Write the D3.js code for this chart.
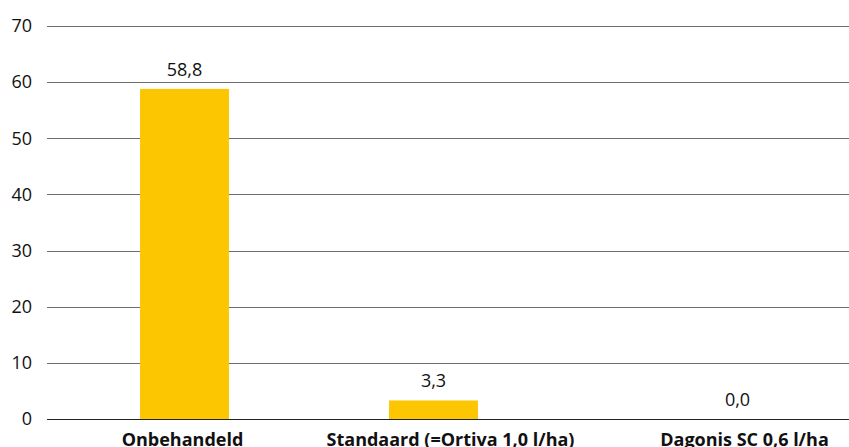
<!DOCTYPE html>
<html>
<head>
<meta charset="utf-8">
<script src="https://cdn.jsdelivr.net/npm/d3@7"></script>
<style>
  body { margin: 0; background: #fff; }
  text { font-family: "Open Sans", sans-serif; fill: #111; }
  .grid line { stroke: #6e6e6e; stroke-width: 1.2; }
  .cat { font-weight: bold; font-size: 18px; }
</style>
</head>
<body>
<div id="chart"></div>
<script>
/* DATA */
const categories = ["Onbehandeld", "Standaard (=Ortiva 1,0 l/ha)", "Dagonis SC 0,6 l/ha"];
const values = [58.8, 3.3, 0.0];
const yTicks = [0, 10, 20, 30, 40, 50, 60, 70];

/* LAYOUT */
const width = 849,
  height = 447,
  margin = { top: 26, bottom: 28, left: 47, right: 0 };
// label nudges to sit where the original put them
const catShift = [-2, 17, 62];
const valShift = [0, 0, 55];

const svg = d3.select("#chart")
  .append("svg")
  .attr("width", width)
  .attr("height", height);

const yScale = d3.scaleLinear()
  .domain([0, 70])
  .range([height - margin.bottom, margin.top]);

const xScale = d3.scaleBand()
  .domain(categories)
  .range([60, 807])
  .paddingInner(0.643)
  .paddingOuter(0.3215);

// gridlines + y labels
const grid = svg.append("g").attr("class", "grid");
grid.selectAll("line")
  .data(yTicks)
  .join("line")
  .attr("x1", margin.left)
  .attr("x2", width)
  .attr("y1", d => Math.round(yScale(d)) + 0.5)
  .attr("y2", d => Math.round(yScale(d)) + 0.5)
  .style("stroke", d => d === 0 ? "#222" : null);

svg.append("g")
  .selectAll("text")
  .data(yTicks)
  .join("text")
  .attr("x", 32)
  .attr("y", d => yScale(d))
  .attr("dy", "0.35em")
  .attr("text-anchor", "end")
  .style("font-size", "18px")
  .text(d => d);

// bars
svg.append("g")
  .selectAll("rect")
  .data(values)
  .join("rect")
  .attr("x", (d, i) => xScale(categories[i]))
  .attr("width", xScale.bandwidth())
  .attr("y", d => yScale(d))
  .attr("height", d => yScale(0) - yScale(d))
  .attr("fill", "#fcc600");

// value labels
const fmt = d => d3.format(".1f")(d).replace(".", ",");
svg.append("g")
  .selectAll("text")
  .data(values)
  .join("text")
  .attr("x", (d, i) => xScale(categories[i]) + xScale.bandwidth() / 2 + valShift[i])
  .attr("y", d => yScale(d) - 13)
  .attr("text-anchor", "middle")
  .style("font-size", "18px")
  .text(fmt);

// category labels
svg.append("g")
  .selectAll("text")
  .data(categories)
  .join("text")
  .attr("class", "cat")
  .attr("x", (d, i) => xScale(d) + xScale.bandwidth() / 2 + catShift[i])
  .attr("y", height - 1)
  .attr("text-anchor", "middle")
  .text(d => d);
</script>
</body>
</html>
